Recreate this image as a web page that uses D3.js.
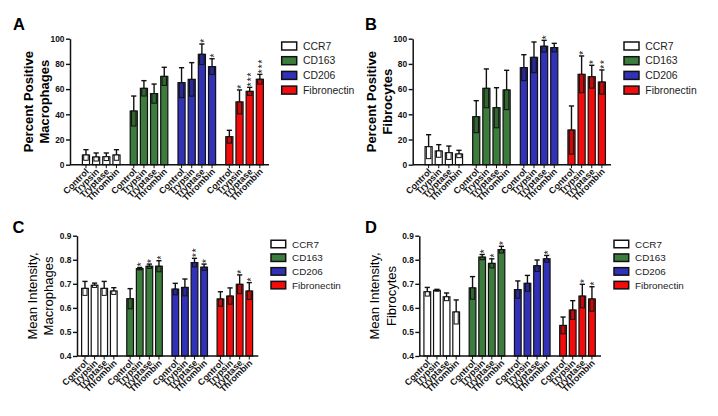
<!DOCTYPE html>
<html><head><meta charset="utf-8">
<script src="https://cdn.jsdelivr.net/npm/d3@7"></script>
<style>
body{margin:0;background:#fff}
svg{display:block}
text{font-family:Arial,'Liberation Sans',sans-serif}
</style>
</head><body>
<svg id="chart" width="718" height="416"></svg>
<script>
const groups = ["CCR7", "CD163", "CD206", "Fibronectin"];
const treatments = ["Control", "Trypsin", "Tryptase", "Thrombin"];
const colors = ["#ffffff", "#3c7c3c", "#3232b8", "#f20c0c"];

// Panel A: Percent positive macrophages
const aMean = [[7.7, 6.1, 6.3, 7.7], [42.6, 60.6, 56.4, 70.1], [65.1, 67.7, 87.6, 77.8], [22.2, 49.8, 58.2, 67.8]];
const aErr  = [[4.2, 3.2, 3.0, 4.2], [11.9, 6.1, 7.6, 7.2], [11.9, 13.3, 8.2, 6.3], [5.1, 9.5, 3.2, 3.9]];
const aStars = [[0, 0, 0, 0], [0, 0, 0, 0], [0, 0, 1, 1], [0, 1, 3, 3]];

// Panel B: Percent positive fibrocytes
const bMean = [[14.3, 10.9, 9.5, 8.5], [38.1, 60.6, 45.2, 59.3], [77.0, 85.2, 94.0, 92.9], [27.5, 71.7, 69.8, 65.6]];
const bErr  = [[9.5, 5.0, 5.3, 2.9], [12.7, 15.4, 15.9, 15.6], [10.3, 12.2, 4.7, 3.4], [19.1, 14.6, 9.1, 9.6]];
const bStars = [[0, 0, 0, 0], [0, 0, 0, 0], [0, 0, 1, 0], [0, 1, 1, 2]];

// Panel C: Mean intensity, macrophages
const cMean = [[0.681, 0.694, 0.681, 0.670], [0.638, 0.763, 0.773, 0.773], [0.678, 0.685, 0.788, 0.769], [0.637, 0.649, 0.698, 0.670]];
const cErr  = [[0.029, 0.009, 0.029, 0.014], [0.042, 0.005, 0.009, 0.023], [0.024, 0.035, 0.018, 0.013], [0.030, 0.034, 0.039, 0.035]];
const cStars = [[0, 0, 0, 0], [0, 1, 1, 1], [0, 0, 2, 1], [0, 0, 1, 1]];

// Panel D: Mean intensity, fibrocytes
const dMean = [[0.667, 0.673, 0.646, 0.583], [0.683, 0.811, 0.785, 0.842], [0.676, 0.702, 0.775, 0.804], [0.527, 0.591, 0.649, 0.637]];
const dErr  = [[0.018, 0.004, 0.016, 0.050], [0.047, 0.011, 0.019, 0.014], [0.036, 0.033, 0.024, 0.014], [0.035, 0.039, 0.049, 0.051]];
const dStars = [[0, 0, 0, 0], [0, 1, 1, 1], [0, 0, 0, 1], [0, 0, 1, 1]];

const percentTicks = [0, 20, 40, 60, 80, 100];
const intensityTicks = [0.4, 0.5, 0.6, 0.7, 0.8, 0.9];

const panels = [
  {letter: "A", mean: aMean, err: aErr, stars: aStars, titles: ["Percent Positive", "Macrophages"], ticks: percentTicks, fmt: d3.format("d"),
   lx: 13, ly: 30, tx: [32.6, 48.6], ty: 101.7, bold: true,
   x0: 70, x1: 269, y0: 164.7, y1: 38.7, dom: [0, 100], xdom: [-1.57, 18.0],
   legX: 281.7, legY: 46, legStep: 14.7, boxW: 15, boxH: 8, legFont: 10.4},
  {letter: "B", mean: bMean, err: bErr, stars: bStars, titles: ["Percent Positive", "Fibrocytes"], ticks: percentTicks, fmt: d3.format("d"),
   lx: 365, ly: 30, tx: [376, 391.5], ty: 101.7, bold: true,
   x0: 412.7, x1: 611, y0: 164.7, y1: 38.7, dom: [0, 100], xdom: [-1.57, 18.0],
   legX: 624, legY: 46, legStep: 14.7, boxW: 15, boxH: 8, legFont: 10.4},
  {letter: "C", mean: cMean, err: cErr, stars: cStars, titles: ["Mean Intensity,", "Macrophages"], ticks: intensityTicks, fmt: d3.format(".1f"),
   lx: 12.5, ly: 233, tx: [36.6, 52.6], ty: 296, bold: false,
   x0: 77, x1: 258.3, y0: 356, y1: 235.7, dom: [0.4, 0.9], xdom: [-0.83, 18.04],
   legX: 271, legY: 244, legStep: 13.7, boxW: 14.7, boxH: 7.5, legFont: 9.9},
  {letter: "D", mean: dMean, err: dErr, stars: dStars, titles: ["Mean Intensity,", "Fibrocytes"], ticks: intensityTicks, fmt: d3.format(".1f"),
   lx: 365, ly: 233, tx: [379.3, 396], ty: 296, bold: false,
   x0: 419.3, x1: 601, y0: 356, y1: 235.7, dom: [0.4, 0.9], xdom: [-0.83, 18.04],
   legX: 614, legY: 244, legStep: 13.7, boxW: 14.7, boxH: 7.5, legFont: 9.9}
];

const svg = d3.select("#chart");
const GROUP_SLOTS = 4.7;

panels.forEach(p => {
  const g = svg.append("g");
  const x = d3.scaleLinear().domain(p.xdom).range([p.x0, p.x1]);
  const y = d3.scaleLinear().domain(p.dom).range([p.y0, p.y1]);
  const barStep = x(1) - x(0);
  const bw = barStep * 0.7;

  const data = [];
  groups.forEach((grp, gi) => treatments.forEach((t, ti) => {
    data.push({gi, ti, grp, t, v: p.mean[gi][ti], e: p.err[gi][ti], s: p.stars[gi][ti], cx: x(gi * GROUP_SLOTS + ti)});
  }));

  // panel letter
  g.append("text").attr("x", p.lx).attr("y", p.ly).attr("font-size", 16.5).attr("font-weight", "bold").text(p.letter);

  // y title
  p.titles.forEach((t, i) => {
    g.append("text").attr("transform", `translate(${p.tx[i]},${p.ty}) rotate(-90)`)
      .attr("text-anchor", "middle").attr("font-size", 13).attr("font-weight", p.bold ? "bold" : "normal").text(t);
  });

  // bars
  const bars = g.append("g");
  bars.selectAll("rect.bar").data(data).join("rect").attr("class", "bar")
    .attr("x", d => d.cx - bw / 2).attr("width", bw)
    .attr("y", d => y(d.v)).attr("height", d => y(p.dom[0]) - y(d.v))
    .attr("fill", d => colors[d.gi]).attr("stroke", "#111").attr("stroke-width", 1.2);

  // lower error box inside bar
  bars.selectAll("rect.eb").data(data).join("rect").attr("class", "eb")
    .attr("x", d => d.cx - bw / 2 + 1.3).attr("width", bw - 2.6)
    .attr("y", d => y(d.v)).attr("height", d => y(Math.max(p.dom[0], d.v - d.e)) - y(d.v))
    .attr("fill", d => d.gi === 0 ? "#ffffff" : d3.color(colors[d.gi]).darker(0.55))
    .attr("stroke", "#111").attr("stroke-width", 1);

  // upper whisker
  bars.selectAll("line.w").data(data).join("line").attr("class", "w")
    .attr("x1", d => d.cx).attr("x2", d => d.cx)
    .attr("y1", d => y(d.v)).attr("y2", d => y(d.v + d.e))
    .attr("stroke", "#111").attr("stroke-width", 1.4);
  bars.selectAll("line.cap").data(data).join("line").attr("class", "cap")
    .attr("x1", d => d.cx - 2.6).attr("x2", d => d.cx + 2.6)
    .attr("y1", d => y(d.v + d.e)).attr("y2", d => y(d.v + d.e))
    .attr("stroke", "#111").attr("stroke-width", 1.4);

  // significance stars: one text per bar, stacked upward (rotated run of asterisks)
  const fs = 10, charW = fs * 0.389, step = 4.8;
  data.filter(d => d.s > 0).forEach(d => {
    const yTop = y(d.v + d.e) - 1.2;
    g.append("text")
      .attr("transform", `translate(${d.cx + fs * 0.57},${yTop}) rotate(-90)`)
      .attr("font-size", fs).attr("fill", "#111")
      .attr("letter-spacing", step - charW)
      .text("*".repeat(d.s));
  });

  // y axis
  const ya = g.append("g").attr("transform", `translate(${p.x0},0)`)
    .call(d3.axisLeft(y).tickValues(p.ticks).tickFormat(p.fmt).tickSize(4).tickSizeOuter(0).tickPadding(1.5));
  ya.select(".domain").attr("stroke", "#111").attr("stroke-width", 1.5);
  ya.selectAll(".tick line").attr("stroke", "#111").attr("stroke-width", 1.4);
  ya.selectAll(".tick text").attr("font-size", 8.4).attr("font-weight", "bold").attr("fill", "#111")
    .style("font-family", "Arial,'Liberation Sans',sans-serif");

  // x axis
  const xa = g.append("g").attr("transform", `translate(0,${p.y0})`);
  xa.append("line").attr("x1", p.x0).attr("x2", p.x1).attr("stroke", "#111").attr("stroke-width", 1.5);
  xa.selectAll("line.t").data(data).join("line").attr("class", "t")
    .attr("x1", d => d.cx).attr("x2", d => d.cx).attr("y1", 0).attr("y2", 3.5)
    .attr("stroke", "#111").attr("stroke-width", 1);
  xa.selectAll("text").data(data).join("text")
    .attr("transform", d => `translate(${d.cx + 3.5},${7.5}) rotate(-45)`)
    .attr("text-anchor", "end").attr("font-size", 9).attr("font-weight", "bold").attr("fill", "#111")
    .text(d => d.t);

  // legend
  const leg = g.append("g");
  groups.forEach((grp, i) => {
    const cy = p.legY + i * p.legStep;
    leg.append("rect").attr("x", p.legX).attr("y", cy - p.boxH / 2).attr("width", p.boxW).attr("height", p.boxH)
      .attr("fill", colors[i]).attr("stroke", "#111").attr("stroke-width", 1.5);
    leg.append("text").attr("x", p.legX + p.boxW + 6.3).attr("y", cy + p.legFont * 0.36)
      .attr("font-size", p.legFont).attr("fill", "#222").text(grp);
  });
});
</script>
</body></html>
